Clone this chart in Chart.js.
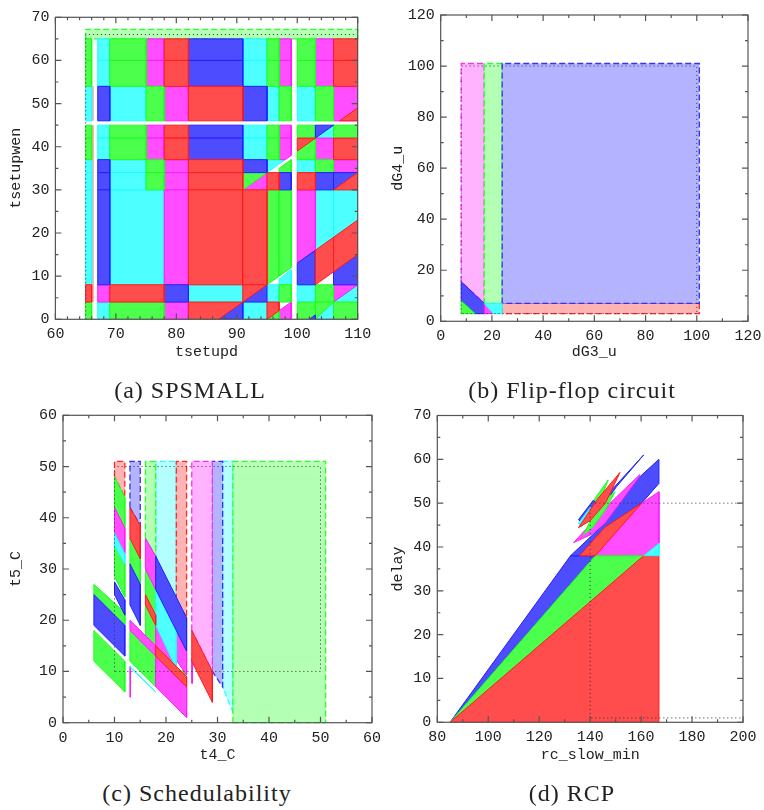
<!DOCTYPE html>
<html>
<head>
<meta charset="utf-8">
<title>Parameter synthesis results</title>
<script src="https://cdn.jsdelivr.net/npm/chart.js@4/dist/chart.umd.min.js"></script>
<style>
  html, body { margin: 0; background: #fff; }
  body { width: 764px; height: 810px; position: relative; overflow: hidden; }
  canvas { position: absolute; }
  .caption { position: absolute; width: 300px; text-align: center; transform: translateX(-50%);
    font: 24px "Liberation Serif", serif; letter-spacing: 1px; color: #222; line-height: 26px; }
</style>
</head>
<body>
<canvas id="a"></canvas>
<canvas id="b"></canvas>
<canvas id="c"></canvas>
<canvas id="d"></canvas>
<div class="caption" style="left:190px;top:377px">(a) SPSMALL</div>
<div class="caption" style="left:572px;top:377px">(b) Flip-flop circuit</div>
<div class="caption" style="left:197px;top:780px">(c) Schedulability</div>
<div class="caption" style="left:572px;top:780px">(d) RCP</div>
<script>
// a zone is either [x0, y0, x1, y1] (box) or a list of [x, y] corners

// (a) SPSMALL
const spsmallGreen = [
  [65,60,66,65],[65,54,66,60],[69,60,75,65],[69,54,75,60],[95,60,97,65],[95,54,97,60],[100,60,103,65],[100,54,103,60],
  [75,46,78,54],[97,46,99,54],[103,46,106,54],
  [65,42,66,45],[65,37,66,42],[69,42,75,45],[69,37,75,42],[95,42,97,45],[95,37,97,42],[100,42,103,45],[106,42,110,45],
  [75,34,78,37],[103,34,106,37],[75,30,78,34],
  [[95,8],[95,30],[97,30],[97,10]],[[97,10],[97,30],[99,30],[99,12]],
  [97,4,99,8],[103,4,106,8],
  [65,0,66,4],[69,0,78,4],[106,0,110,4],[[100,0],[100,4],[103,4],[103,1],[102,0]],
  [[91,30],[91,34],[95,34]],[[100,37],[100,39],[103,42],[103,37]],[[95,0],[97,2],[97,0]],[[103,0],[103,4],[106,4]],
  [[97,34],[97,35],[99,37],[99,34]]
];
const spsmallMagenta = [
  [75,60,78,65],[75,54,78,60],[97,60,99,65],[97,54,99,60],[103,60,106,65],[103,54,106,60],
  [78,46,82,54],[106,46,110,54],
  [75,42,78,45],[75,37,78,42],[97,42,99,45],[[97,37],[97,42],[99,42],[99,38],[98,37]],[103,37,106,42],
  [78,34,82,37],[106,34,110,37],[78,30,82,34],[78,8,82,30],
  [[100,13],[100,30],[103,30],[103,16]],
  [67,4,69,8],[[106,4],[106,8],[110,8]],
  [78,0,82,4],[[97,0],[97,2],[99,4],[99,0]],
  [[91,30],[95,30],[95,34]]
];
const spsmallRed = [
  [78,60,82,65],[78,54,82,60],[106,60,110,65],[106,54,110,60],
  [82,46,91,54],[[107,46],[110,49],[110,46]],
  [78,42,82,45],[78,37,82,42],[106,37,110,42],[[100,39],[100,42],[103,42]],
  [82,34,91,37],[82,30,91,34],[95,30,97,34],[100,30,103,34],[[106,30],[110,34],[110,30]],
  [82,8,91,30],[91,8,95,30],
  [[103,8],[103,16],[106,19],[106,11]],[[106,11],[106,19],[110,23],[110,15]],
  [65,4,66,8],[69,4,78,8],[[91,4],[91,8],[95,8]],
  [[82,0],[82,4],[91,4],[87,0]],[[95,0],[95,4],[97,4],[97,2]]
];
const spsmallBlue = [
  [82,60,91,65],[82,54,91,60],[67,46,69,54],[91,46,95,54],
  [82,42,91,45],[82,37,91,42],[67,34,69,37],[91,34,95,37],
  [67,30,69,34],[97,30,99,34],[103,30,106,34],[[106,30],[106,34],[110,34]],
  [67,8,69,30],[[100,8],[100,13],[103,16],[103,8]],[[106,8],[106,11],[110,15],[110,8]],
  [78,4,82,8],[[91,4],[95,4],[95,8]],
  [[87,0],[91,4],[91,0]],[[102,0],[103,1],[103,0]],[[103,42],[103,45],[106,45]]
];
const spsmallCyan = [
  [67,60,69,65],[67,54,69,60],[91,60,95,65],[91,54,95,60],
  [65,46,66,54],[69,46,75,54],[95,46,97,54],[100,46,103,54],
  [67,42,69,45],[67,37,69,42],[91,42,95,45],[91,37,95,42],
  [65,34,66,37],[69,34,75,37],[100,34,103,37],[[95,34],[95,37],[98,37]],
  [65,30,66,34],[69,30,75,34],[65,8,66,30],[69,8,78,30],
  [[103,16],[103,30],[106,30],[106,19]],[[106,19],[106,30],[110,30],[110,23]],
  [[97,8],[97,9.3],[99,11.5],[99,8]],
  [82,4,91,8],[95,4,97,8],[100,4,103,8],[[106,4],[110,8],[110,4]],
  [67,0,69,4],[91,0,95,4],[[103,0],[106,4],[106,0]],[[103,42],[106,45],[106,42]]
];
const spsmallStrip = [[66,4,66.4,45],[66,46,66.4,54]];
const spsmallLightGreen = [[65,65,110,67.2]];
const spsmallDotted = [[65,0,110,66]];

// (b) Flip-flop circuit
const flipflopLightMagenta = [[[8,15.5],[8,101],[17,101],[17,7]]];
const flipflopLightGreen = [[17,7,24,101]];
const flipflopLightBlue = [[24,7,101,101]];
const flipflopLightRed = [[24,3,101,7]];
const flipflopBlue = [[[8,15.5],[17,7],[17,3],[13.5,3],[8,8]]];
const flipflopGreen = [[[8,8],[13.5,3],[8,3]]];
const flipflopMagenta = [[[17,7],[17,3],[20.5,3]]];
const flipflopCyan = [[[17,7],[20.5,3],[24,3],[24,7]]];
const flipflopDotted = [[8,3,100,100]];

// (c) Schedulability
const schedLightRed = [[[10,48],[10,51],[12,51],[12,44]],[[22,24],[22,51],[24,51],[24,20.5]]];
const schedLightBlue = [[[13,42],[13,51],[15,51],[15,38.5]],[[29,10],[29,51],[31,51],[31,7]]];
const schedLightGreen = [[[16,36],[16,51],[18,51],[18,32.5]],[33,0,51,51]];
const schedLightCyan = [[[18,32.5],[18,51],[22,51],[22,24]],[[31,7],[31,51],[33,51],[33,2]]];
const schedLightMagenta = [[[25,18],[25,51],[29,51],[29,10]]];
const schedGreen = [
  [[10,48],[12,44],[12,38],[10,42]],[[10,34.5],[12,31],[12,24.5],[10,28.5]],
  [[6,27],[12,21.5],[12,19],[6,25]],[[6,18],[12,12],[12,6],[6,12]],
  [[13,36],[15,32],[15,27],[13,31]],[[13,18],[18,13],[18,7],[13,12]],
  [[16,30],[18,26],[18,21],[16,25]],[[16,23],[18,19],[18,15],[16,17]],
  [[22.5,9.8],[24,9],[23.2,10.2]]
];
const schedMagenta = [
  [[10,42],[12,38],[12,33],[10,37]],[[13,20],[18,15],[18,13],[13,18]],
  [[16,36],[18,32.5],[18,26],[16,30]],[[18,19],[22,11],[22,10.5],[18,15]],
  [[18,13],[24,7],[24,1],[18,7]],[[22,18],[24,14],[24,9.3],[22,12.2]],
  [[25,12.5],[25.1,12.5],[25.1,7.7],[25,7.7]],[[13,11],[13.1,11],[13.1,5],[13,5]]
];
const schedCyan = [
  [[10,37],[12,33],[12,31],[10,34.5]],[[18,26],[22,18],[22,10.5],[18,19]],
  [[13,11],[18,6],[17.9,6],[13,10.8]]
];
const schedBlue = [
  [[10,27.5],[12,24],[12,21],[10,25]],[[6,25],[12,19],[12,13],[6,19]],
  [[13,31],[15,27],[15,19],[13,23]],[[18,32.5],[24,20.5],[24,14],[18,26]]
];
const schedRed = [
  [[13,42],[15,38.5],[15,32],[13,36]],[[16,25],[18,21],[18,19],[16,23]],
  [[18,15],[24,9],[24,7],[18,13]],[[25,18],[29,10],[29,4],[25,12]]
];
const schedDotted = [[10,10,50,50]];

// (d) RCP
const rcpRed = [
  [[85,0],[167,0],[167,38],[161,38]],
  [[135.8,38],[142,38],[160.2,50],[145.8,44.5]]
];
const rcpGreen = [[[85,0],[161,38],[142,38]]];
const rcpBlue = [
  [[85,0],[142,38],[135.8,38],[132.3,38]],
  [[132.3,38],[135.8,38],[145.8,44.5],[160.2,50],[167,54.5],[167,60],[158.9,55.7],[145.8,45.4]],
  [[142.3,47.3],[147.8,52.6],[161,61],[150.4,53.8]]
];
const rcpMagenta = [
  [[142,38],[160.2,50],[167,52.6],[167,40.8],[161,38]],
  [[133.5,41],[147.8,50],[159.5,56.5],[158.9,55.7],[145.8,45.4],[141,43]]
];
const rcpCyan = [[[161,38],[167,40.8],[167,38]]];
const rcpTipBlue = [[[135.4,46.2],[141.3,50.7],[143,49.5],[137,45.5]]];
const rcpTipCyan = [[[135.5,45.5],[140,49],[141,48.5],[136.5,44.5]]];
const rcpTipGreen = [
  [[137.3,42.7],[143,49.5],[149.8,52.6],[146,48.5],[141,44.5]],
  [[139,47],[141.9,51.1],[147.1,55.3],[143.5,50],[141,47.5]]
];
const rcpTipRed = [[[135.4,44.4],[143,51],[151.7,57],[146,50],[140,46]]];
const rcpDotted = [[140,1,210,50]];

const SOLID = {
  red: ['#ff4d4d', '#ff1a1a'], green: ['#4dff4d', '#1aff1a'], blue: ['#4d4dff', '#2020ff'],
  magenta: ['#ff4dff', '#ff1aff'], cyan: ['#4dffff', '#1affff']
};
const LIGHT = {
  red: ['#ffb3b3', '#ff2a2a'], green: ['#b3ffb3', '#2aff2a'], blue: ['#b3b3ff', '#3030ff'],
  magenta: ['#ffb3ff', '#ff2aff'], cyan: ['#b3ffff', '#2affff']
};

function corners(zone) {
  let pts = zone;
  if (typeof zone[0] === 'number') {
    const [x0, y0, x1, y1] = zone;
    pts = [[x0, y0], [x0, y1], [x1, y1], [x1, y0]];
  }
  return pts.concat([pts[0]]).map(([x, y]) => ({ x, y }));
}

function solid(zones, name) {
  return zones.map(z => ({
    data: corners(z), showLine: true, fill: 'shape', tension: 0, pointRadius: 0,
    backgroundColor: SOLID[name][0], borderColor: SOLID[name][1], borderWidth: 1
  }));
}
function light(zones, name) {
  return zones.map(z => ({
    data: corners(z), showLine: true, fill: 'shape', tension: 0, pointRadius: 0, clip: 3,
    backgroundColor: LIGHT[name][0], borderColor: LIGHT[name][1], borderWidth: 1.3, borderDash: [6, 3]
  }));
}
// plain thin band without an outline
function strip(zones, name) {
  return zones.map(z => ({
    data: corners(z), showLine: true, fill: 'shape', tension: 0, pointRadius: 0,
    backgroundColor: LIGHT[name][0], borderWidth: 0
  }));
}
function dotted(zones) {
  return zones.map(z => ({
    data: corners(z), showLine: true, fill: false, tension: 0, pointRadius: 0,
    borderColor: '#333', borderWidth: 1, borderDash: [1, 3]
  }));
}

// gnuplot style frame: ticks point inwards on all four sides
const frame = {
  id: 'frame',
  afterDatasetsDraw(chart, args, opts) {
    const { ctx, chartArea: a, scales: { x, y } } = chart;
    ctx.save();
    ctx.strokeStyle = '#555';
    ctx.lineWidth = 1.2;
    ctx.strokeRect(a.left, a.top, a.right - a.left, a.bottom - a.top);
    ctx.beginPath();
    const marks = (scale, step, len) => {
      for (let v = scale.min; v <= scale.max; v += step) {
        const p = scale.getPixelForValue(v);
        if (scale === x) {
          ctx.moveTo(p, a.bottom); ctx.lineTo(p, a.bottom - len);
          ctx.moveTo(p, a.top); ctx.lineTo(p, a.top + len);
        } else {
          ctx.moveTo(a.left, p); ctx.lineTo(a.left + len, p);
          ctx.moveTo(a.right, p); ctx.lineTo(a.right - len, p);
        }
      }
    };
    marks(x, opts.xStep, 6);
    marks(x, opts.xMinor, 3);
    marks(y, opts.yStep, 6);
    marks(y, opts.yMinor, 3);
    ctx.stroke();
    ctx.restore();
  }
};

function axis(min, max, step, label, size) {
  return {
    type: 'linear', min, max,
    grid: { display: false, drawTicks: false },
    border: { display: false },
    ticks: {
      stepSize: step, autoSkip: false, maxRotation: 0, padding: 6, color: '#222',
      font: { family: '"Liberation Mono", monospace', size: 15 }
    },
    title: {
      display: true, text: label, color: '#222', padding: { top: 7, bottom: 1 },
      font: { family: '"Liberation Mono", monospace', size: 15 }
    },
    afterFit(scale) {
      if (scale.isHorizontal()) scale.height = size; else scale.width = size;
    }
  };
}

function draw(id, box, plot, xAxis, yAxis, datasets) {
  const el = document.getElementById(id);
  el.style.left = box.left + 'px';
  el.style.top = box.top + 'px';
  el.width = box.width;
  el.height = box.height;
  new Chart(el, {
    type: 'scatter',
    data: { datasets: datasets.reverse() }, // first dataset is painted last by Chart.js
    plugins: [frame],
    options: {
      responsive: false, animation: false, devicePixelRatio: 1,
      layout: {
        autoPadding: false,
        padding: {
          left: 0, bottom: 0,
          top: plot.top - box.top,
          right: box.left + box.width - plot.right
        }
      },
      scales: {
        x: axis(xAxis[0], xAxis[1], xAxis[2], xAxis[4], box.top + box.height - plot.bottom),
        y: axis(yAxis[0], yAxis[1], yAxis[2], yAxis[4], plot.left - box.left)
      },
      plugins: {
        legend: { display: false }, tooltip: { enabled: false },
        frame: { xStep: xAxis[2], xMinor: xAxis[3], yStep: yAxis[2], yMinor: yAxis[3] }
      }
    }
  });
}

// the boxes are wide enough that the last x tick label does not push the plot edge in
draw('a', { left: 0, top: 0, width: 382, height: 362 },
  { left: 55.4, top: 17.3, right: 357.7, bottom: 319.3 },
  [60, 110, 10, 2, 'tsetupd'], [0, 70, 10, 5, 'tsetupwen'],
  [
    ...light(spsmallLightGreen, 'green'), ...strip(spsmallStrip, 'red'),
    ...solid(spsmallCyan, 'cyan'), ...solid(spsmallMagenta, 'magenta'), ...solid(spsmallGreen, 'green'),
    ...solid(spsmallBlue, 'blue'), ...solid(spsmallRed, 'red'), ...dotted(spsmallDotted)
  ]);

draw('b', { left: 382, top: 0, width: 392, height: 362 },
  { left: 440.7, top: 14.3, right: 748, bottom: 321.3 },
  [0, 120, 20, 10, 'dG3_u'], [0, 120, 20, 10, 'dG4_u'],
  [
    ...light(flipflopLightMagenta, 'magenta'), ...light(flipflopLightGreen, 'green'),
    ...light(flipflopLightRed, 'red'), ...light(flipflopLightBlue, 'blue'),
    ...solid(flipflopBlue, 'blue'), ...solid(flipflopGreen, 'green'),
    ...solid(flipflopMagenta, 'magenta'), ...solid(flipflopCyan, 'cyan'), ...dotted(flipflopDotted)
  ]);

draw('c', { left: 0, top: 400, width: 392, height: 365 },
  { left: 63, top: 415.3, right: 372, bottom: 722.7 },
  [0, 60, 10, 5, 't4_C'], [0, 60, 10, 5, 't5_C'],
  [
    ...light(schedLightCyan, 'cyan'), ...light(schedLightGreen, 'green'), ...light(schedLightBlue, 'blue'),
    ...light(schedLightMagenta, 'magenta'), ...light(schedLightRed, 'red'),
    ...solid(schedGreen, 'green'), ...solid(schedMagenta, 'magenta'), ...solid(schedCyan, 'cyan'),
    ...solid(schedBlue, 'blue'), ...solid(schedRed, 'red'), ...dotted(schedDotted)
  ]);

draw('d', { left: 382, top: 400, width: 392, height: 365 },
  { left: 437.3, top: 415.5, right: 743, bottom: 722.3 },
  [80, 200, 20, 10, 'rc_slow_min'], [0, 70, 10, 5, 'delay'],
  [
    ...solid(rcpBlue, 'blue'), ...solid(rcpMagenta, 'magenta'), ...solid(rcpGreen, 'green'),
    ...solid(rcpRed, 'red'), ...solid(rcpCyan, 'cyan'),
    ...solid(rcpTipGreen, 'green'), ...solid(rcpTipBlue, 'blue'), ...solid(rcpTipCyan, 'cyan'),
    ...solid(rcpTipRed, 'red'), ...dotted(rcpDotted)
  ]);
</script>
</body>
</html>
